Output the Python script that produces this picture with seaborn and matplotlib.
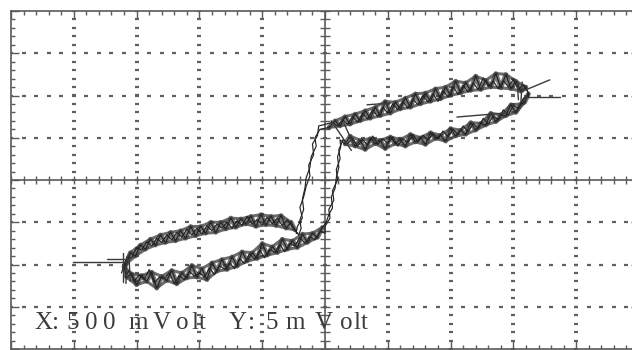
import numpy as np
import pandas as pd
import matplotlib
matplotlib.use("Agg")
import matplotlib.pyplot as plt
import seaborn as sns

# Oscilloscope X-Y trace, in screen divisions (X: 500 mV/div, Y: 5 mV/div)
# ---- sweep 1 ----
# lower loop, lower edge (sweeping right)
lower_out_x = [-3.20, -3.16, -3.08, -3.00, -2.92, -2.84, -2.76, -2.68, -2.60, -2.52, -2.44,
               -2.36, -2.28, -2.20, -2.12, -2.04, -1.96, -1.88, -1.80, -1.72, -1.64, -1.56,
               -1.48, -1.40, -1.32, -1.24, -1.16, -1.08, -1.00, -0.92, -0.84, -0.76, -0.68,
               -0.60, -0.52, -0.44, -0.36, -0.28, -0.20, -0.12, -0.04]
lower_out_y = [-2.05, -2.30, -2.22, -2.48, -2.26, -2.40, -2.18, -2.56, -2.28, -2.38, -2.14,
               -2.46, -2.20, -2.32, -2.02, -2.30, -2.10, -2.36, -1.96, -2.16, -1.88, -2.12,
               -1.82, -2.04, -1.70, -1.92, -1.72, -1.86, -1.50, -1.78, -1.58, -1.72, -1.40,
               -1.64, -1.44, -1.60, -1.28, -1.48, -1.26, -1.36, -1.12]
# rising jump
rise_x = [0.02, 0.06, 0.12, 0.10, 0.16, 0.18, 0.22, 0.20, 0.25, 0.24]
rise_y = [-1.00, -0.82, -0.66, -0.40, -0.20, 0.05, 0.30, 0.55, 0.78, 0.95]
# upper loop, lower edge (sweeping right)
upper_out_x = [0.32, 0.40, 0.48, 0.56, 0.64, 0.72, 0.80, 0.88, 0.96, 1.04, 1.12, 1.20, 1.28,
               1.36, 1.44, 1.52, 1.60, 1.68, 1.76, 1.84, 1.92, 2.00, 2.08, 2.16, 2.24, 2.32,
               2.40, 2.48, 2.56, 2.64, 2.72, 2.80, 2.88, 2.96, 3.04, 3.12, 3.18, 3.24]
upper_out_y = [0.85, 1.04, 0.80, 0.94, 0.72, 0.98, 0.86, 0.94, 0.74, 1.02, 0.86, 0.96, 0.80,
               1.08, 0.90, 1.00, 0.84, 1.12, 0.98, 1.06, 0.92, 1.22, 1.04, 1.18, 1.08, 1.36,
               1.18, 1.34, 1.30, 1.58, 1.38, 1.54, 1.52, 1.78, 1.60, 1.80, 1.84, 2.04]
# upper loop, upper edge (sweeping back left)
upper_back_x = [3.20, 3.12, 3.04, 2.96, 2.88, 2.80, 2.72, 2.64, 2.56, 2.48, 2.40, 2.32, 2.24,
                2.16, 2.08, 2.00, 1.92, 1.84, 1.76, 1.68, 1.60, 1.52, 1.44, 1.36, 1.28, 1.20,
                1.12, 1.04, 0.96, 0.88, 0.80, 0.72, 0.64, 0.56, 0.48, 0.40, 0.32, 0.24, 0.16,
                0.06]
upper_back_y = [2.20, 2.10, 2.34, 2.16, 2.50, 2.18, 2.52, 2.20, 2.36, 2.14, 2.46, 2.12, 2.30,
                2.06, 2.34, 2.00, 2.20, 1.92, 2.16, 1.86, 2.06, 1.80, 2.04, 1.72, 1.94, 1.68,
                1.84, 1.58, 1.86, 1.52, 1.72, 1.46, 1.64, 1.40, 1.56, 1.32, 1.50, 1.28, 1.40,
                1.24]
# falling jump
fall_x = [-0.08, -0.16, -0.14, -0.22, -0.24, -0.30, -0.32, -0.36, -0.34, -0.40, -0.38, -0.42]
fall_y = [1.20, 1.00, 0.80, 0.55, 0.30, 0.05, -0.20, -0.45, -0.70, -0.95, -1.15, -1.30]
# lower loop, upper edge (sweeping back left)
lower_back_x = [-0.48, -0.54, -0.62, -0.70, -0.78, -0.86, -0.94, -1.02, -1.10, -1.18, -1.26,
                -1.34, -1.42, -1.50, -1.58, -1.66, -1.74, -1.82, -1.90, -1.98, -2.06, -2.14,
                -2.22, -2.30, -2.38, -2.46, -2.54, -2.62, -2.70, -2.78, -2.86, -2.94, -3.02,
                -3.10, -3.16, -3.20]
lower_back_y = [-1.18, -1.00, -1.14, -0.84, -1.08, -0.86, -1.06, -0.82, -1.10, -0.86, -1.04,
                -0.92, -1.12, -0.90, -1.16, -1.00, -1.24, -1.00, -1.26, -1.10, -1.32, -1.10,
                -1.38, -1.20, -1.44, -1.24, -1.48, -1.30, -1.54, -1.40, -1.64, -1.54, -1.80,
                -1.72, -1.98, -2.05]

# ---- sweep 2 (samples fall between those of sweep 1) ----
lower_out_x2 = [-3.18, -3.12, -3.04, -2.96, -2.88, -2.80, -2.72, -2.64, -2.56, -2.48, -2.40,
                -2.32, -2.24, -2.16, -2.08, -2.00, -1.92, -1.84, -1.76, -1.68, -1.60, -1.52,
                -1.44, -1.36, -1.28, -1.20, -1.12, -1.04, -0.96, -0.88, -0.80, -0.72, -0.64,
                -0.56, -0.48, -0.40, -0.32, -0.24, -0.16, -0.08, 0.00]
lower_out_y2 = [-2.30, -2.14, -2.40, -2.24, -2.36, -2.12, -2.44, -2.30, -2.34, -2.20, -2.46,
                -2.26, -2.36, -2.16, -2.28, -2.20, -2.30, -2.08, -2.24, -2.02, -2.12, -1.96,
                -2.10, -1.86, -1.98, -1.74, -1.88, -1.66, -1.84, -1.64, -1.72, -1.52, -1.70,
                -1.50, -1.56, -1.36, -1.50, -1.34, -1.42, -1.22, -1.26]
rise_x2 = [0.00, 0.08, 0.06, 0.14, 0.12, 0.20, 0.18, 0.24, 0.22, 0.28]
rise_y2 = [-1.10, -0.90, -0.70, -0.48, -0.25, 0.00, 0.25, 0.50, 0.72, 0.92]
upper_out_x2 = [0.28, 0.36, 0.44, 0.52, 0.60, 0.68, 0.76, 0.84, 0.92, 1.00, 1.08, 1.16, 1.24,
                1.32, 1.40, 1.48, 1.56, 1.64, 1.72, 1.80, 1.88, 1.96, 2.04, 2.12, 2.20, 2.28,
                2.36, 2.44, 2.52, 2.60, 2.68, 2.76, 2.84, 2.92, 3.00, 3.08, 3.16, 3.24]
upper_out_y2 = [0.95, 0.86, 0.98, 0.80, 0.96, 0.82, 1.04, 0.84, 0.98, 0.86, 1.02, 0.80, 0.98,
                0.88, 1.08, 0.90, 1.06, 0.94, 1.10, 0.98, 1.16, 1.02, 1.20, 1.08, 1.28, 1.14,
                1.34, 1.22, 1.46, 1.32, 1.52, 1.42, 1.66, 1.54, 1.76, 1.70, 1.94, 1.96]
upper_back_x2 = [3.24, 3.16, 3.08, 3.00, 2.92, 2.84, 2.76, 2.68, 2.60, 2.52, 2.44, 2.36, 2.28,
                 2.20, 2.12, 2.04, 1.96, 1.88, 1.80, 1.72, 1.64, 1.56, 1.48, 1.40, 1.32, 1.24,
                 1.16, 1.08, 1.00, 0.92, 0.84, 0.76, 0.68, 0.60, 0.52, 0.44, 0.36, 0.28, 0.20,
                 0.12]
upper_back_y2 = [2.06, 2.26, 2.14, 2.38, 2.20, 2.36, 2.16, 2.34, 2.22, 2.42, 2.14, 2.30, 2.08,
                 2.24, 2.02, 2.22, 1.96, 2.12, 1.86, 2.04, 1.84, 2.00, 1.78, 1.92, 1.70, 1.86,
                 1.66, 1.80, 1.58, 1.72, 1.50, 1.66, 1.44, 1.58, 1.36, 1.50, 1.32, 1.42, 1.28,
                 1.36]
fall_x2 = [-0.10, -0.12, -0.20, -0.18, -0.26, -0.24, -0.30, -0.34, -0.40, -0.36, -0.44, -0.46]
fall_y2 = [1.28, 1.05, 0.85, 0.60, 0.35, 0.10, -0.15, -0.40, -0.65, -0.90, -1.10, -1.26]
lower_back_x2 = [-0.44, -0.52, -0.60, -0.68, -0.76, -0.84, -0.92, -1.00, -1.08, -1.16, -1.24,
                 -1.32, -1.40, -1.48, -1.56, -1.64, -1.72, -1.80, -1.88, -1.96, -2.04, -2.12,
                 -2.20, -2.28, -2.36, -2.44, -2.52, -2.60, -2.68, -2.76, -2.84, -2.92, -3.00,
                 -3.08, -3.16, -3.24]
lower_back_y2 = [-1.26, -1.10, -0.94, -1.08, -0.90, -1.04, -0.88, -1.06, -0.94, -1.04, -0.86,
                 -1.08, -0.96, -1.14, -1.00, -1.14, -1.04, -1.20, -1.08, -1.28, -1.14, -1.30,
                 -1.16, -1.36, -1.24, -1.42, -1.30, -1.48, -1.38, -1.56, -1.46, -1.66, -1.60,
                 -1.84, -1.84, -2.20]

# stray glitch strokes: (x0, y0) -> (x1, y1)
glitch_x0 = [-4.01, -3.47, -3.22, -3.15, -3.10, 3.11, 3.18, 3.12, 3.06, 2.10, 0.67, 0.10, 0.30]
glitch_y0 = [-1.94, -1.87, -1.72, -1.80, -2.40, 2.08, 1.96, 1.86, 2.30, 1.49, 1.78, 1.40, 1.35]
glitch_x1 = [-3.23, -3.20, -3.22, -3.17, -3.12, 3.58, 3.74, 3.14, 3.08, 2.90, 1.04, 0.42, 0.45]
glitch_y1 = [-1.94, -1.87, -2.42, -2.45, -1.86, 2.37, 1.96, 2.32, 1.90, 1.59, 1.82, 0.70, 0.85]

# scale readout "X: 500 mVolt   Y: 5 mVolt", set glyph by glyph across the
# horizontally stretched screen (centre of each glyph in pixels)
readout_chars = list("X:500mVolt") + list("Y:5mVolt")
readout_centres_px = [43, 56, 73, 91, 109, 138, 162, 182, 195, 202,
                      238, 251, 272, 295, 324, 346, 357, 364]

sweep1_x = lower_out_x + rise_x + upper_out_x + upper_back_x + fall_x + lower_back_x
sweep1_y = lower_out_y + rise_y + upper_out_y + upper_back_y + fall_y + lower_back_y
sweep2_x = lower_out_x2 + rise_x2 + upper_out_x2 + upper_back_x2 + fall_x2 + lower_back_x2
sweep2_y = lower_out_y2 + rise_y2 + upper_out_y2 + upper_back_y2 + fall_y2 + lower_back_y2
trace = pd.DataFrame({
    "x": sweep1_x + sweep2_x,
    "y": sweep1_y + sweep2_y,
    "sweep": [1] * len(sweep1_x) + [2] * len(sweep2_x),
})

# phosphor glow along the slow loop edges: the zigzag of sweep 1 itself, plus
# strokes through its crests and troughs to fill the band
edges = [(lower_out_x, lower_out_y), (upper_out_x, upper_out_y),
         (upper_back_x, upper_back_y), (lower_back_x, lower_back_y)]
glow_parts, rim_parts = [], []
for i, (ex, ey) in enumerate(edges):
    glow_parts.append(pd.DataFrame({"x": ex, "y": ey, "part": i}))
    for p in (0, 1):
        rim_parts.append(pd.DataFrame({"x": ex[p::2], "y": ey[p::2], "part": 2 * i + p}))
glow = pd.concat(glow_parts, ignore_index=True)
rim = pd.concat(rim_parts, ignore_index=True)

sns.set_style("white")
plt.rcParams["font.family"] = ["Liberation Serif", "DejaVu Serif"]

W, H = 632, 350
fig = plt.figure(figsize=(W / 100, H / 100), dpi=100)
# screen: 10 x 8 divisions, right and bottom edges run just past the frame
left_px, right_px, top_px, bottom_px = 11, 639, 11, 349
ax = fig.add_axes([left_px / W, (H - bottom_px) / H,
                   (right_px - left_px) / W, (bottom_px - top_px) / H])
ax.set_xlim(-5, 5)
ax.set_ylim(-4, 4)

frame_col = "#5a5a5a"
for s in ax.spines.values():
    s.set_color(frame_col)
    s.set_linewidth(1.2)
ax.set_xticks(np.arange(-5, 6, 1))
ax.set_yticks(np.arange(-4, 5, 1))
ax.set_xticks(np.arange(-5, 5.01, 0.2), minor=True)
ax.set_yticks(np.arange(-4, 4.01, 0.2), minor=True)
ax.tick_params(which="both", direction="in", top=True, bottom=True, left=True, right=True,
               labelbottom=False, labelleft=False, color=frame_col, width=1.0)
ax.tick_params(which="major", length=5.5)
ax.tick_params(which="minor", length=3.2)

# dotted graticule
dot_kw = dict(ls="none", marker="_", ms=3.2, mew=1.6, color="#606060", zorder=1)
ys = np.arange(-4, 4.01, 0.2)
xs = np.arange(-5, 5.01, 0.2)
for gx in range(-4, 5):
    if gx != 0:
        ax.plot(np.full_like(ys, gx), ys, **dot_kw)
for gy in range(-3, 4):
    if gy != 0:
        ax.plot(xs, np.full_like(xs, gy), **dot_kw)

# centre axes with crossing tick marks
ax.axhline(0, color=frame_col, lw=1.2, zorder=1)
ax.axvline(0, color=frame_col, lw=1.2, zorder=1)
ax.plot(xs, np.zeros_like(xs), ls="none", marker="|", ms=5.5, mew=1.0, color=frame_col, zorder=1)
ax.plot(np.zeros_like(ys), ys, ls="none", marker="_", ms=6.5, mew=1.0, color=frame_col, zorder=1)

# trace
sns.lineplot(data=rim, x="x", y="y", units="part", sort=False, estimator=None,
             ax=ax, color="#3c3c3c", lw=2.2, alpha=0.75, zorder=3)
sns.lineplot(data=glow, x="x", y="y", units="part", sort=False, estimator=None,
             ax=ax, color="#3c3c3c", lw=3.4, alpha=0.7, zorder=3)
sns.lineplot(data=trace, x="x", y="y", units="sweep", sort=False, estimator=None, ax=ax,
             color="#222222", lw=0.85, zorder=4)
for x0, y0, x1, y1 in zip(glitch_x0, glitch_y0, glitch_x1, glitch_y1):
    ax.plot([x0, x1], [y0, y1], color="#3a3a3a", lw=1.0, zorder=4)

ax.set_xlabel("")
ax.set_ylabel("")

base = (H - 329) / H
for ch, cx in zip(readout_chars, readout_centres_px):
    fig.text(cx / W, base, ch, fontsize=18, color="#3c3c3c", ha="center", va="baseline")

fig.savefig("out.png", dpi=100, facecolor="white")
